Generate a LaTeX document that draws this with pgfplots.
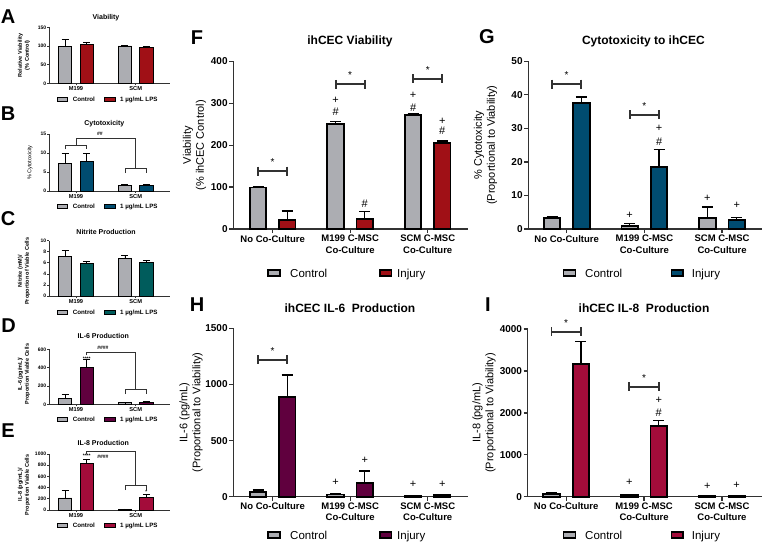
\documentclass[border=0pt]{standalone}
\usepackage{fontspec}
\setmainfont{Liberation Sans}
\usepackage{pgfplots}
\pgfplotsset{compat=1.18}

\definecolor{cgray}{RGB}{172,173,178}
\definecolor{cred}{RGB}{160,16,22}
\definecolor{cblue}{RGB}{0,76,112}
\definecolor{cteal}{RGB}{0,92,92}
\definecolor{cpurple}{RGB}{96,0,62}
\definecolor{ccrimson}{RGB}{163,12,58}
\definecolor{caxis}{RGB}{50,50,50}

\newcommand{\fs}[2]{\fontsize{#1}{#2}\selectfont}

\tikzset{
  sigline/.style={line width=1.8pt, caxis},
  sline/.style={line width=0.7pt, caxis},
}

\pgfplotsset{
  common/.style={
    scale only axis, axis x line*=bottom, axis y line*=left,
    ymin=0, clip=false, tick align=outside,
    /pgf/number format/assume math mode=true,
    /pgf/number format/1000 sep={},
    scaled y ticks=false,
    every axis title shift=0pt,
    ylabel style={anchor=center, align=center},
    title style={anchor=center},
  },
  big/.style={common,
    axis line style={-, line width=1.5pt, draw=caxis},
    tick style={line width=1.3pt, draw=caxis},
    major tick length=4pt,
    xtick={0,1,2},
    xticklabels={No Co-Culture,{M199 C-MSC\\Co-Culture},{SCM C-MSC\\Co-Culture}},
    xticklabel style={align=center, font=\bfseries\fs{9.5}{11.3}, inner sep=2pt},
    yticklabel style={font=\bfseries\fs{10}{12}, inner sep=1.5pt},
    ylabel style={font=\fs{11}{13}},
    title style={font=\bfseries\fs{12}{14}},
  },
  small/.style={common,
    width=120.7pt, xmin=-0.447, xmax=1.575,
    axis line style={-, line width=0.8pt, draw=caxis},
    tick style={line width=0.7pt, draw=caxis},
    major tick length=2pt,
    xtick={0,1}, xticklabels={M199,SCM},
    xticklabel style={font=\bfseries\fs{5.7}{7}, inner sep=1.5pt},
    yticklabel style={font=\bfseries\fs{5}{6}, inner sep=1pt},
    ylabel style={font=\bfseries\fs{5.5}{6.8}},
    title style={font=\bfseries\fs{7}{8}},
  },
  bbar/.style={ybar, bar width=16.5pt, bar shift=0pt, draw=black, line width=1.8pt,
    error bars/y dir=plus, error bars/y explicit,
    error bars/error bar style={line width=1.3pt, black},
    error bars/error mark options={line width=1.3pt, black, mark size=5.5pt, rotate=90}},
  sbar/.style={ybar, bar width=13.5pt, bar shift=0pt, draw=black, line width=0.9pt,
    error bars/y dir=plus, error bars/y explicit,
    error bars/error bar style={line width=0.7pt, black},
    error bars/error mark options={line width=0.7pt, black, mark size=3.5pt, rotate=90}},
}

% significance bar: x1, x2, y, xcenter
\newcommand{\sig}[4]{%
  \draw[sigline] (axis cs:#1,#3) -- (axis cs:#2,#3);
  \draw[sigline] ([yshift=4.5pt]axis cs:#1,#3) -- ([yshift=-4.5pt]axis cs:#1,#3);
  \draw[sigline] ([yshift=4.5pt]axis cs:#2,#3) -- ([yshift=-4.5pt]axis cs:#2,#3);
  \node[font=\fs{10}{12}] at ([yshift=9pt]axis cs:#4,#3) {*};
}
\newcommand{\mk}[3]{\node[font=\fs{11}{13}, inner sep=0pt] at (axis cs:#1,#2) {#3};}

\begin{document}
\begin{tikzpicture}[x=1pt, y=-1pt]
\path[use as bounding box] (0,0) rectangle (764,543);

% ---------------- A ----------------
\begin{axis}[small, at={(49.3pt,-83.3pt)}, anchor=south west, height=56pt,
  ymax=150, ytick={0,50,100,150},
  ylabel={Relative Viability\\(\% Control)}, ylabel style={at={(axis description cs:-0.21,0.5)}},
  title={Viability}, title style={at={(axis description cs:0.47,1.171)}}]
\addplot[sbar, fill=cgray] coordinates {(-0.181,99) +- (0,19) (0.819,100) +- (0,2)};
\addplot[sbar, fill=cred] coordinates {(0.181,105) +- (0,6) (1.181,95) +- (0,4)};
\end{axis}

% ---------------- B ----------------
\begin{axis}[small, at={(49.3pt,-191pt)}, anchor=south west, height=56.7pt,
  ymax=15, ytick={0,5,10,15},
  ylabel={\mdseries\% Cytotoxicity}, ylabel style={at={(axis description cs:-0.16,0.5)}},
  title={Cytotoxicity}, title style={at={(axis description cs:0.456,1.194)}}]
\addplot[sbar, fill=cgray] coordinates {(-0.181,7.2) +- (0,2.7) (0.819,1.5) +- (0,0.15)};
\addplot[sbar, fill=cblue] coordinates {(0.181,7.9) +- (0,2.1) (1.181,1.5) +- (0,0.15)};
\draw[sline] (axis cs:-0.18,11) -- (axis cs:-0.18,12) -- (axis cs:0.18,12) -- (axis cs:0.18,11);
\draw[sline] (axis cs:0,12) -- (axis cs:0,13.9) -- (axis cs:1,13.9) -- (axis cs:1,6);
\draw[sline] (axis cs:0.82,4.7) -- (axis cs:0.82,6) -- (axis cs:1.18,6) -- (axis cs:1.18,4.7);
\node[font=\bfseries\fs{5}{6}] at (axis cs:0.4,15.2) {\#\#};
\end{axis}

% ---------------- C ----------------
\begin{axis}[small, at={(49.3pt,-296pt)}, anchor=south west, height=55.3pt,
  ymax=10, ytick={0,2,4,6,8,10},
  ylabel={Nitrite (mM)/\\Proportion of Viable Cells}, ylabel style={at={(axis description cs:-0.21,0.45)}},
  title={Nitrite Production}, title style={at={(axis description cs:0.47,1.163)}}]
\addplot[sbar, fill=cgray] coordinates {(-0.181,7.2) +- (0,1.0) (0.819,6.8) +- (0,0.6)};
\addplot[sbar, fill=cteal] coordinates {(0.181,5.8) +- (0,0.5) (1.181,6.0) +- (0,0.45)};
\end{axis}

% ---------------- D ----------------
\begin{axis}[small, at={(49.3pt,-404.3pt)}, anchor=south west, height=55pt,
  ymax=600, ytick={0,200,400,600},
  ylabel={IL-6 (pg/mL)/\\Proportion Viable Cells}, ylabel style={at={(axis description cs:-0.21,0.55)}},
  title={IL-6 Production}, title style={at={(axis description cs:0.447,1.247)}}]
\addplot[sbar, fill=cgray] coordinates {(-0.181,62) +- (0,42) (0.819,15) +- (0,4)};
\addplot[sbar, fill=cpurple] coordinates {(0.181,400) +- (0,85) (1.181,22) +- (0,8)};
\draw[sline] (axis cs:0.18,535) -- (axis cs:0.18,567) -- (axis cs:1,567) -- (axis cs:1,167);
\draw[sline] (axis cs:0.82,112) -- (axis cs:0.82,167) -- (axis cs:1.18,167) -- (axis cs:1.18,112);
\node[font=\bfseries\fs{5}{6}] at (axis cs:0.45,615) {\#\#\#\#};
\node[font=\bfseries\fs{5}{6}] at (axis cs:0.18,500) {****};
\end{axis}

% ---------------- E ----------------
\begin{axis}[small, at={(49.3pt,-510pt)}, anchor=south west, height=56pt,
  ymax=1000, ytick={0,200,400,600,800,1000},
  ylabel={IL-8 (pg/mL)/\\Proportion Viable Cells}, ylabel style={at={(axis description cs:-0.21,0.45)}},
  title={IL-8 Production}, title style={at={(axis description cs:0.447,1.191)}}]
\addplot[sbar, fill=cgray] coordinates {(-0.181,215) +- (0,135) (0.819,15) +- (0,5)};
\addplot[sbar, fill=ccrimson] coordinates {(0.181,830) +- (0,70) (1.181,230) +- (0,45)};
\draw[sline] (axis cs:0.18,1000) -- (axis cs:0.18,1054) -- (axis cs:1,1054) -- (axis cs:1,434);
\draw[sline] (axis cs:0.82,357) -- (axis cs:0.82,434) -- (axis cs:1.18,434) -- (axis cs:1.18,357);
\node[font=\bfseries\fs{5}{6}] at (axis cs:0.45,945) {\#\#\#\#};
\node[font=\bfseries\fs{5}{6}] at (axis cs:0.18,960) {****};
\node[font=\bfseries\fs{5}{6}] at (axis cs:1.18,330) {*};
\end{axis}

% ---------------- F ----------------
\begin{axis}[big, at={(233.3pt,-229pt)}, anchor=south west, width=234.7pt, height=167.7pt,
  xmin=-0.508, xmax=2.52, ymax=400, ytick={0,100,200,300,400},
  ylabel={Viability\\(\% ihCEC Control)}, ylabel style={at={(axis description cs:-0.165,0.5)}},
  title={ihCEC Viability}, title style={at={(axis description cs:0.497,1.117)}}]
\addplot[bbar, fill=cgray] coordinates {(-0.188,99) +- (0,2) (0.812,250) +- (0,7) (1.812,272) +- (0,3)};
\addplot[bbar, fill=cred] coordinates {(0.188,21) +- (0,22) (1.188,23) +- (0,18) (2.188,206) +- (0,4)};
\sig{-0.188}{0.188}{138}{0}
\sig{0.812}{1.188}{345}{1}
\sig{1.812}{2.188}{358}{2}
\mk{0.812}{308}{+}\mk{0.812}{280}{\#}
\mk{1.188}{60}{\#}
\mk{1.812}{318}{+}\mk{1.812}{290}{\#}
\mk{2.188}{258}{+}\mk{2.188}{235}{\#}
\end{axis}

% ---------------- G ----------------
\begin{axis}[big, at={(528.3pt,-229pt)}, anchor=south west, width=233.4pt, height=167.7pt,
  xmin=-0.494, xmax=2.51, ymax=50, ytick={0,10,20,30,40,50},
  ylabel={\% Cytotoxicity\\(Proportional to Viability)}, ylabel style={at={(axis description cs:-0.183,0.5)}},
  title={Cytotoxicity to ihCEC}, title style={at={(axis description cs:0.493,1.117)}}]
\addplot[bbar, fill=cgray] coordinates {(-0.189,3.2) +- (0,0.4) (0.811,1.0) +- (0,0.7) (1.811,3.2) +- (0,3.4)};
\addplot[bbar, fill=cblue] coordinates {(0.189,37.6) +- (0,1.8) (1.189,18.6) +- (0,5.1) (2.189,2.7) +- (0,0.7)};
\sig{-0.189}{0.189}{43.2}{0}
\sig{0.811}{1.189}{34}{1}
\mk{1.189}{30}{+}\mk{1.189}{26}{\#}
\mk{0.811}{4.2}{+}
\mk{1.811}{9.2}{+}
\mk{2.189}{7.2}{+}
\end{axis}

% ---------------- H ----------------
\begin{axis}[big, at={(233.3pt,-496.7pt)}, anchor=south west, width=234.7pt, height=168.4pt,
  xmin=-0.508, xmax=2.52, ymax=1500, ytick={0,500,1000,1500},
  ylabel={IL-6 (pg/mL)\\(Proportional to Viability)}, ylabel style={at={(axis description cs:-0.18,0.5)}},
  title={ihCEC IL-6\ \ Production}, title style={at={(axis description cs:0.497,1.119)}}]
\addplot[bbar, fill=cgray] coordinates {(-0.188,40) +- (0,20) (0.812,20) +- (0,8) (1.812,8) +- (0,3)};
\addplot[bbar, fill=cpurple] coordinates {(0.188,891) +- (0,194) (1.188,119) +- (0,110) (2.188,16) +- (0,6)};
\sig{-0.188}{0.188}{1218}{0}
\mk{0.812}{125}{+}
\mk{1.188}{321}{+}
\mk{1.812}{110}{+}
\mk{2.188}{110}{+}
\end{axis}

% ---------------- I ----------------
\begin{axis}[big, at={(527.7pt,-496.7pt)}, anchor=south west, width=234pt, height=167.7pt,
  xmin=-0.494, xmax=2.51, ymax=4000, ytick={0,1000,2000,3000,4000},
  ylabel={IL-8 (pg/mL)\\(Proportional to Viability)}, ylabel style={at={(axis description cs:-0.187,0.5)}},
  title={ihCEC IL-8\ \ Production}, title style={at={(axis description cs:0.497,1.123)}}]
\addplot[bbar, fill=cgray] coordinates {(-0.189,72) +- (0,20) (0.811,40) +- (0,20) (1.811,10) +- (0,5)};
\addplot[bbar, fill=ccrimson] coordinates {(0.189,3167) +- (0,530) (1.189,1694) +- (0,120) (2.189,20) +- (0,15)};
\sig{-0.189}{0.189}{3938}{0}
\sig{0.811}{1.189}{2625}{1}
\mk{1.189}{2308}{+}\mk{1.189}{2014}{\#}
\mk{0.811}{344}{+}
\mk{1.811}{240}{+}
\mk{2.189}{280}{+}
\end{axis}

% ---------------- legends ----------------
\foreach \yy/\cc in {99.3/cred, 206/cblue, 312.5/cteal, 419.5/cpurple, 525/ccrimson}{
  \draw[line width=0.8pt, fill=cgray] (57.3,\yy-2) rectangle (67.7,\yy+2);
  \node[anchor=base west, inner sep=0pt, font=\bfseries\fs{6.2}{7}] at (72.7,\yy+2.2) {Control};
  \draw[line width=0.8pt, fill=\cc] (104,\yy-2) rectangle (115,\yy+2);
  \node[anchor=base west, inner sep=0pt, font=\bfseries\fs{6.2}{7}] at (120,\yy+2.2) {1 µg/mL LPS};
}
\foreach \yy/\xa/\xb/\xc/\xd/\cc in {273/268/290/380/397/cred, 273/563.3/585/671.7/691.7/cblue, 535/268/290/380/397/cpurple, 535/563.3/585/671.7/691.7/ccrimson}{
  \draw[line width=1.5pt, fill=cgray] (\xa,\yy-3) rectangle (\xa+12,\yy+3);
  \node[anchor=base west, inner sep=0pt, font=\fs{11.5}{13}] at (\xb,\yy+4.1) {Control};
  \draw[line width=1.5pt, fill=\cc] (\xc,\yy-3) rectangle (\xc+11.5,\yy+3);
  \node[anchor=base west, inner sep=0pt, font=\fs{11.5}{13}] at (\xd,\yy+4.1) {Injury};
}

% ---------------- panel letters ----------------
\foreach \lx/\ly/\lt in {8/16.5/A, 8/114/B, 8/219/C, 8.5/325.5/D, 8/431/E}{
  \node[font=\bfseries\fs{20}{24}, inner sep=0pt] at (\lx,\ly) {\lt};
}
\foreach \lx/\ly/\lt in {197/38/F, 487/37/G, 197/305/H, 488/305/I}{
  \node[font=\bfseries\fs{20}{24}, inner sep=0pt] at (\lx,\ly) {\lt};
}
\end{tikzpicture}
\end{document}
